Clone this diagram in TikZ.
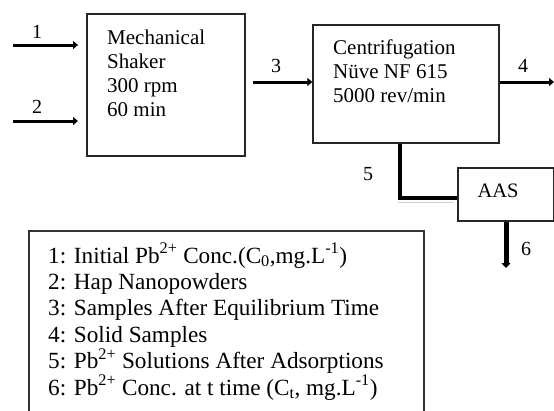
\documentclass[tikz,border=0pt]{standalone}
\usepackage{fontspec}
\setmainfont{Liberation Serif}
\usetikzlibrary{arrows.meta}
\begin{document}
\begin{tikzpicture}[x=1pt,y=-1pt,
  box/.style={draw=black!85,line width=1.3pt,inner sep=0pt},
  flow/.style={line width=3pt,-{Triangle[length=5pt,width=8pt]}},
  boxtxt/.style={anchor=base west,inner sep=0pt,font=\fontsize{21}{24}\selectfont},
  lbl/.style={anchor=base,inner sep=0pt,font=\fontsize{20}{22}\selectfont},
  leg/.style={anchor=base west,inner sep=0pt,font=\fontsize{23.2}{27}\selectfont}]
\clip (0,0) rectangle (554,410);
\fill[white] (0,0) rectangle (554,410);
% boxes
\node[box,minimum width=158pt,minimum height=142pt] (shaker) at (166,85) {};
\node[box,minimum width=186pt,minimum height=118pt] (centri) at (406,84) {};
\node[box,minimum width=96pt,minimum height=53pt] (aas) at (506,194.5) {};
% box texts
\node[boxtxt] (s1) at (107,44) {Mechanical};
\node[boxtxt] (s2) at (107,68) {Shaker};
\node[boxtxt] (s3) at (107,92) {300 rpm};
\node[boxtxt] (s4) at (107,116) {60 min};
\node[boxtxt] (c1) at (333,54) {Centrifugation};
\node[boxtxt] (c2) at (333,78) {Nüve NF 615};
\node[boxtxt] (c3) at (333,102) {5000 rev/min};
\node[lbl,font=\fontsize{20.5}{22}\selectfont] (aastxt) at (498,197) {AAS};
% connectors
\coordinate (in1) at (13,45);
\coordinate (in2) at (13,121);
\coordinate (out4) at (554,82);
\coordinate (out6) at (506,268);
\coordinate (b5) at (400,198);
\draw[flow] (in1) -- (78,45);
\draw[flow] (in2) -- (78,121);
\draw[flow] (253,82) -- (centri.west |- 0,82);
\draw[flow] (centri.east |- 0,82) -- (out4);
\draw[line width=3.2pt] (centri.south -| b5) -- (b5) -- (aas.west |- b5);
\draw[black!20,line width=1.5pt] (398,202.5) -- (453,202.5);
\draw[line width=5pt,-{Triangle[length=5pt,width=9pt]}] (aas.south -| out6) -- (out6);
% labels
\node[lbl] (l1) at (37,38) {1};
\node[lbl] (l2) at (37,113) {2};
\node[lbl] (l3) at (276,72) {3};
\node[lbl] (l4) at (523,72) {4};
\node[lbl] (l5) at (368,180) {5};
\node[lbl] (l6) at (526,255) {6};
% legend
\draw[draw=black!80,line width=1.3pt] (29,420) -- (29,231) -- (424,231) -- (424,420);
\node[leg] (g1) at (48,263) {1: Initial Pb\textsuperscript{2+} Conc.(C\textsubscript{0},mg.L\textsuperscript{-1})};
\node[leg] (g2) at (48,289.4) {2: Hap Nanopowders};
\node[leg] (g3) at (48,315.8) {3: Samples After Equilibrium Time};
\node[leg] (g4) at (48,342.2) {4: Solid Samples};
\node[leg] (g5) at (48,368.6) {5: Pb\textsuperscript{2+} Solutions After Adsorptions};
\node[leg] (g6) at (48,395) {6: Pb\textsuperscript{2+} Conc. at t time (C\textsubscript{t}, mg.L\textsuperscript{-1})};
\end{tikzpicture}
\end{document}
